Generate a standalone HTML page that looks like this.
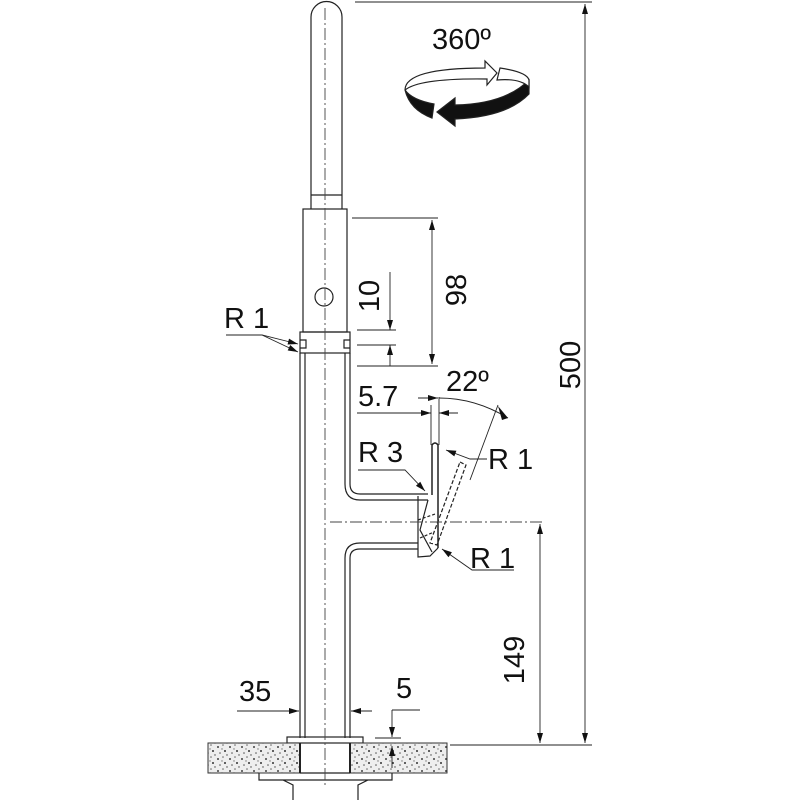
<!DOCTYPE html>
<html><head><meta charset="utf-8"><style>
html,body{margin:0;padding:0;background:#fff;width:800px;height:800px;overflow:hidden}
text{font-family:"Liberation Sans",sans-serif;fill:#111}
</style></head><body>
<svg width="800" height="800" viewBox="0 0 800 800" xmlns="http://www.w3.org/2000/svg">
<defs>
<marker id="a" viewBox="0 0 10 6" refX="10" refY="3" markerWidth="11" markerHeight="6" orient="auto-start-reverse" markerUnits="userSpaceOnUse"><path d="M0,0L10,3L0,6z" fill="#111"/></marker>
<pattern id="g" width="12" height="12" patternUnits="userSpaceOnUse">
<rect width="12" height="12" fill="#eee"/>
<circle cx="2" cy="3" r="1" fill="#444"/><circle cx="7" cy="1" r=".8" fill="#666"/><circle cx="9" cy="7" r="1" fill="#333"/><circle cx="4" cy="9" r=".8" fill="#555"/><circle cx="11" cy="11" r=".7" fill="#444"/><circle cx="6" cy="5" r=".7" fill="#777"/>
</pattern>
</defs>
<g fill="none" stroke="#222" stroke-width="1.2">
<path d="M311,195 V17 A15.5,15.5 0 0 1 342,17 V195"/>
<line x1="311" y1="195" x2="342" y2="195"/>
<rect x="303" y="209" width="44" height="123"/>
<line x1="311" y1="195" x2="311" y2="209"/><line x1="342" y1="195" x2="342" y2="209"/>
<circle cx="324" cy="297" r="9"/>
<rect x="300" y="332" width="50" height="21"/>
<path d="M300,340 L306,340 L306,348 L300,348 M350,340 L344,340 L344,348 L350,348"/>
<line x1="300" y1="353" x2="300" y2="738"/>
<line x1="305" y1="353" x2="305" y2="738"/>
<line x1="345" y1="353" x2="345" y2="484"/>
<line x1="350" y1="353" x2="350" y2="484"/>
<path d="M345,484 Q345,500 360,500 H428 M350,484 Q350,494 360,494 H428"/>
<path d="M345,738 V558 Q345,543 360,543 H418 M350,738 V558 Q350,549 360,549 H418"/>
<path d="M432,495 V445 Q435,441 438,445 V548" stroke-width="1.5"/>
<path d="M418,496 V557 L430,556 L438,548"/>
<path d="M428,500 L420,530 L432,552"/>
<path d="M460,462 L466,465 L437,545 L430,543 Z" stroke-dasharray="4,2"/>
<path d="M418,520 L435,514 M420,538 L434,532" stroke-dasharray="3,2"/>
<rect x="287" y="737" width="76" height="6"/>
</g>
<rect x="208" y="743" width="92" height="30" fill="url(#g)" stroke="#333"/>
<rect x="350" y="743" width="97" height="30" fill="url(#g)" stroke="#333"/>
<g fill="none" stroke="#222" stroke-width="1.2">
<line x1="300" y1="743" x2="300" y2="773" stroke-width="2"/><line x1="350" y1="743" x2="350" y2="773" stroke-width="2"/>
<path d="M259,773 V780 H283 L293,785 V800 M392,773 V780 H368 L358,785 V800 M259,780 H392"/>
<line x1="300" y1="773" x2="350" y2="773"/>
</g>
<g stroke="#444" stroke-width="0.9" stroke-dasharray="12,3,2,3">
<line x1="325" y1="8" x2="325" y2="785"/>
<line x1="330" y1="522" x2="545" y2="522"/>
</g>
<g stroke="#222" stroke-width="0.9" fill="none">
<line x1="355" y1="2" x2="592" y2="2"/>
<line x1="450" y1="745" x2="592" y2="745"/>
<line x1="585" y1="4" x2="585" y2="743" marker-start="url(#a)" marker-end="url(#a)"/>
<line x1="352" y1="218" x2="438" y2="218"/>
<line x1="357" y1="366" x2="438" y2="366"/>
<line x1="432" y1="220" x2="432" y2="364" marker-start="url(#a)" marker-end="url(#a)"/>
<line x1="357" y1="330" x2="396" y2="330"/>
<line x1="357" y1="345" x2="396" y2="345"/>
<line x1="390" y1="272" x2="390" y2="330" marker-end="url(#a)"/>
<line x1="390" y1="366" x2="390" y2="345" marker-end="url(#a)"/>
<line x1="540" y1="524" x2="540" y2="743" marker-start="url(#a)" marker-end="url(#a)"/>
<line x1="237" y1="711" x2="299" y2="711" marker-end="url(#a)"/>
<line x1="372" y1="711" x2="351" y2="711" marker-end="url(#a)"/>
<line x1="392" y1="710" x2="420" y2="710"/>
<line x1="375" y1="738" x2="401" y2="738"/>
<line x1="392" y1="710" x2="392" y2="737" marker-end="url(#a)"/>
<line x1="392" y1="768" x2="392" y2="746" marker-end="url(#a)"/>
<line x1="357" y1="413" x2="431" y2="413" marker-end="url(#a)"/>
<line x1="458" y1="413" x2="439" y2="413" marker-end="url(#a)"/>
<line x1="431" y1="405" x2="431" y2="445"/>
<line x1="439" y1="397" x2="439" y2="445"/>
<path d="M439,398 Q475,398 508,418" />
<line x1="438" y1="398" x2="418" y2="398" marker-start="url(#a)"/>
<line x1="470" y1="480" x2="498" y2="405"/>
<path d="M226,335 H262 L298,344" marker-end="url(#a)"/>
<path d="M262,335 L298,352" marker-end="url(#a)"/>
<path d="M358,470 H405 L425,491" marker-end="url(#a)"/>
<path d="M487,459 H470 L446,450" marker-end="url(#a)"/>
<path d="M514,570 H472 L442,549" marker-end="url(#a)"/>
</g>
<path d="M498,406 L508,418 L502,420 Z" fill="#111"/>
<g stroke="#222" stroke-width="1.2">
<path d="M405,90 Q410,110 432,118 L434,104 Q412,100 405,90 Z" fill="#111"/>
<path d="M437,112 L455,98 L455,105 Q505,104 529,80 L529,94 Q507,117 455,119 L455,126 Z" fill="#111"/>
<path d="M405,90 Q405,68 485,68 L485,61 L497,73 L487,85 L487,79 Q420,78 405,90" fill="#fff"/>
<path d="M500,68 Q527,72 529,80 L529,87 Q520,78 497,80 Z" fill="#fff"/>
</g>
<text x="432" y="49" font-size="29">360º</text>
<text x="224" y="328" font-size="29">R 1</text>
<text x="358" y="462" font-size="29">R 3</text>
<text x="488" y="469" font-size="29">R 1</text>
<text x="470" y="568" font-size="29">R 1</text>
<text x="358" y="406" font-size="29">5.7</text>
<text x="446" y="391" font-size="29">22º</text>
<text x="239" y="701" font-size="29">35</text>
<text x="396" y="698" font-size="29">5</text>
<text font-size="29" transform="translate(379,296) rotate(-90)" text-anchor="middle">10</text>
<text font-size="29" transform="translate(466,290) rotate(-90)" text-anchor="middle">98</text>
<text font-size="29" transform="translate(580,365) rotate(-90)" text-anchor="middle">500</text>
<text font-size="29" transform="translate(524,660) rotate(-90)" text-anchor="middle">149</text>
</svg>
</body></html>
